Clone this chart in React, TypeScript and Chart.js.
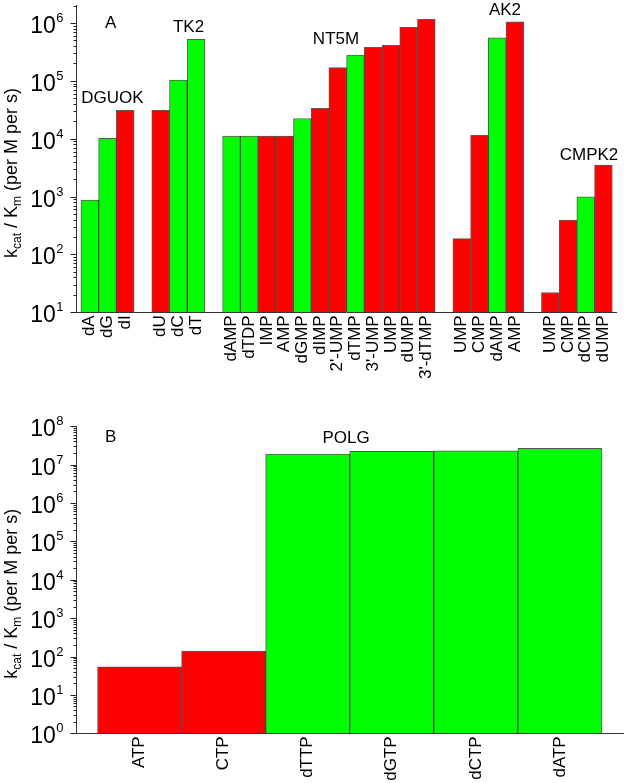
import React, { useEffect, useRef } from 'react';
import { Chart, registerables } from 'chart.js';

Chart.register(...registerables);

const FONT = '"Liberation Sans", Arial, Helvetica, sans-serif';
const RED = '#ff0000';
const GREEN = '#00ff00';

// ---- Panel A data (empty label / null value = gap slot) ----
const topLabels = [
  'dA', 'dG', 'dI', '',
  'dU', 'dC', 'dT', '',
  'dAMP', 'dTDP', 'IMP', 'AMP', 'dGMP', 'dIMP', "2'-UMP", 'dTMP', "3'-UMP", 'UMP', 'dUMP', "3'-dTMP", '',
  'UMP', 'CMP', 'dAMP', 'AMP', '',
  'UMP', 'CMP', 'dCMP', 'dUMP',
];
const topValues = [
  870, 10200, 31000, null,
  31000, 103000, 520000, null,
  11100, 11100, 11100, 11100, 22400, 33400, 169000, 279000, 380000, 411000, 843000, 1160000, null,
  188, 11500, 557000, 1050000, null,
  22, 391, 989, 3490,
];
const topColors = [
  'g', 'g', 'r', '',
  'r', 'g', 'g', '',
  'g', 'g', 'r', 'r', 'g', 'r', 'r', 'g', 'r', 'r', 'r', 'r', '',
  'r', 'r', 'g', 'r', '',
  'r', 'r', 'g', 'r',
];
const topNotes = [
  { text: 'A', x: 105, y: 28, align: 'left' },
  { text: 'DGUOK', x: 112.5, y: 103, align: 'center' },
  { text: 'TK2', x: 188.5, y: 32, align: 'center' },
  { text: 'NT5M', x: 336, y: 44, align: 'center' },
  { text: 'AK2', x: 505, y: 15, align: 'center' },
  { text: 'CMPK2', x: 589, y: 160, align: 'center' },
];

// ---- Panel B data ----
const bottomLabels = ['ATP', 'CTP', 'dTTP', 'dGTP', 'dCTP', 'dATP'];
const bottomValues = [54, 139, 18800000, 22100000, 22800000, 26300000];
const bottomColors = ['r', 'r', 'g', 'g', 'g', 'g'];
const bottomNotes = [
  { text: 'B', x: 105, y: 41.7, align: 'left' },
  { text: 'POLG', x: 346, y: 43, align: 'center' },
];

function logTicks(min: number, max: number) {
  const t: { value: number }[] = [];
  const e0 = Math.floor(Math.log10(min));
  const e1 = Math.ceil(Math.log10(max));
  for (let e = e0; e <= e1; e++) {
    for (let s = 1; s < 10; s++) {
      const v = s * Math.pow(10, e);
      if (v >= min * 0.9999 && v <= max * 1.0001) t.push({ value: v });
    }
  }
  return t;
}

function makeDecor(notes: any[]) {
  return {
    id: 'decor',
    afterDraw(chart: any) {
      const ctx = chart.ctx;
      const ys = chart.scales.y;
      const area = chart.chartArea;
      ctx.save();
      ctx.strokeStyle = '#222';
      ctx.lineWidth = 1;
      ctx.fillStyle = '#000';
      for (const t of ys.ticks) {
        const lg = Math.log10(t.value);
        const major = Math.abs(lg - Math.round(lg)) < 1e-9;
        const p = Math.round(ys.getPixelForValue(t.value)) + 0.5;
        const len = major ? 6 : 3;
        ctx.beginPath();
        ctx.moveTo(area.left - len, p);
        ctx.lineTo(area.left, p);
        ctx.stroke();
        if (major) {
          const exp = String(Math.round(lg));
          ctx.font = `23px ${FONT}`;
          const w1 = ctx.measureText('10').width;
          ctx.font = `13px ${FONT}`;
          const w2 = ctx.measureText(exp).width;
          const right = area.left - 13;
          ctx.textAlign = 'left';
          ctx.textBaseline = 'alphabetic';
          ctx.font = `23px ${FONT}`;
          ctx.fillText('10', right - w2 - w1 - 0.5, p + 9);
          ctx.font = `13px ${FONT}`;
          ctx.fillText(exp, right - w2, p - 1.5);
        }
      }
      // y-axis title with subscripts
      const parts = [
        { t: 'k', s: 18, d: 0 },
        { t: 'cat', s: 12, d: 4 },
        { t: ' / K', s: 18, d: 0 },
        { t: 'm', s: 12, d: 4 },
        { t: ' (per M per s)', s: 18, d: 0 },
      ];
      let total = 0;
      for (const pt of parts) {
        ctx.font = `${pt.s}px ${FONT}`;
        total += ctx.measureText(pt.t).width;
      }
      const cy = (area.top + area.bottom) / 2 + 14;
      ctx.translate(17, cy);
      ctx.rotate(-Math.PI / 2);
      ctx.textAlign = 'left';
      ctx.textBaseline = 'alphabetic';
      let x = -total / 2;
      for (const pt of parts) {
        ctx.font = `${pt.s}px ${FONT}`;
        ctx.fillText(pt.t, x, pt.d);
        x += ctx.measureText(pt.t).width;
      }
      ctx.setTransform(1, 0, 0, 1, 0, 0);
      // annotations
      ctx.font = `17px ${FONT}`;
      ctx.textBaseline = 'alphabetic';
      for (const n of notes) {
        ctx.textAlign = n.align;
        ctx.fillText(n.text, n.x, n.y);
      }
      ctx.restore();
    },
  };
}

function buildConfig(labels: string[], values: (number | null)[], colors: string[], notes: any[], o: any) {
  const pts: { x: number; y: number }[] = [];
  const bg: string[] = [];
  values.forEach((v, i) => {
    if (v != null) {
      pts.push({ x: i, y: v });
      bg.push(colors[i] === 'r' ? RED : GREEN);
    }
  });
  return {
    type: 'bar',
    data: {
      datasets: [
        {
          data: pts,
          backgroundColor: bg,
          borderColor: 'rgba(0,0,0,0.65)',
          borderWidth: 1,
          barPercentage: 1,
          categoryPercentage: 1,
        },
      ],
    },
    options: {
      animation: false,
      responsive: false,
      maintainAspectRatio: false,
      layout: { padding: { top: o.padTop, right: o.padRight, left: 0, bottom: 0 } },
      plugins: { legend: { display: false }, tooltip: { enabled: false }, title: { display: false } },
      scales: {
        x: {
          type: 'linear',
          position: 'bottom',
          min: -0.75,
          max: labels.length - 0.25,
          offset: false,
          grid: { display: false, drawTicks: false },
          border: { display: true, color: '#333', width: 1 },
          ticks: {
            stepSize: 1,
            autoSkip: false,
            includeBounds: false,
            minRotation: 90,
            maxRotation: 90,
            padding: 3,
            color: '#000',
            font: { family: FONT, size: 17 },
            callback: (v: number) => labels[Math.round(v)] ?? '',
          },
          afterFit: (s: any) => {
            s.height = o.xHeight;
          },
        },
        y: {
          type: 'logarithmic',
          min: o.min,
          max: o.max,
          grid: { display: false, drawTicks: false },
          border: { display: true, color: '#333', width: 1 },
          ticks: { display: false },
          afterBuildTicks: (s: any) => {
            s.ticks = logTicks(o.min, o.max);
          },
          afterFit: (s: any) => {
            s.width = o.yWidth;
          },
        },
      },
    },
    plugins: [makeDecor(notes)],
  };
}

function Panel({ top, height, make }: { top: number; height: number; make: () => any }) {
  const ref = useRef<HTMLCanvasElement | null>(null);
  useEffect(() => {
    if (!ref.current) return;
    const c = new Chart(ref.current, make());
    return () => c.destroy();
  }, []);
  return (
    <canvas
      ref={ref}
      width={627}
      height={height}
      style={{ position: 'absolute', left: 0, top, width: 627, height }}
    />
  );
}

export default function App() {
  return (
    <div style={{ position: 'absolute', left: 0, top: 0, width: 627, height: 783, background: '#fff' }}>
      <Panel
        top={0}
        height={400}
        make={() =>
          buildConfig(topLabels, topValues, topColors, topNotes, {
            min: 10,
            max: 2000000,
            padTop: 5.6,
            padRight: 7,
            xHeight: 400 - 312.3,
            yWidth: 76.5,
          })
        }
      />
      <Panel
        top={400}
        height={383}
        make={() =>
          buildConfig(bottomLabels, bottomValues, bottomColors, bottomNotes, {
            min: 1,
            max: 100000000,
            padTop: 26.1,
            padRight: 4,
            xHeight: 383 - 333.3,
            yWidth: 76.5,
          })
        }
      />
    </div>
  );
}
